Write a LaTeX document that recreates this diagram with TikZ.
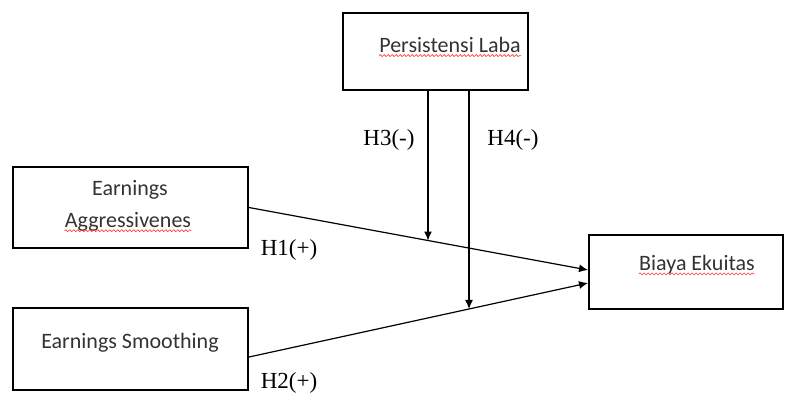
\documentclass[tikz,border=0pt]{standalone}
\usepackage{fontspec}
\setmainfont{Liberation Serif}
\newfontfamily\boxfont{Carlito}
\usetikzlibrary{arrows.meta,calc,decorations.pathmorphing}

\begin{document}
\begin{tikzpicture}[x=0.5pt,y=-0.5pt,
    varbox/.style={draw,line width=1pt,inner sep=0pt},
    boxtext/.style={inner sep=0pt,text=black!80,font=\boxfont\fontsize{11}{13}\selectfont},
    hyp/.style={inner sep=0pt,font=\fontsize{11.5}{13}\selectfont},
    arr/.style={line width=0.6pt,-{Latex[length=4.5pt,width=4pt]}},
    spell/.style={red!80,line width=0.3pt,decorate,decoration={snake,amplitude=0.5pt,segment length=2pt}}]

    \useasboundingbox (0,0) rectangle (790,397);

    \node [varbox,minimum width=92.5pt,minimum height=38.5pt] (pl) at (435.5,51.5) {};
    \node [varbox,minimum width=117.5pt,minimum height=40.5pt] (ea) at (130.5,207.5) {};
    \node [varbox,minimum width=117.5pt,minimum height=41pt] (es) at (130.5,349) {};
    \node [varbox,minimum width=97pt,minimum height=37pt] (be) at (686,272) {};

    \node [boxtext] (plt) at (450,45) {Persistensi Laba};
    \node [boxtext] (eat1) at (130,190) {Earnings};
    \node [boxtext] (eat2) at (128,222) {Aggressivenes};
    \node [boxtext] (est) at (130,343) {Earnings Smoothing};
    \node [boxtext] (bet) at (697,265) {Biaya Ekuitas};

    \draw [spell] ([yshift=-1.5pt]plt.base west) -- ([yshift=-1.5pt]plt.base east);
    \draw [spell] ([yshift=-1.5pt]eat2.base west) -- ([yshift=-1.5pt]eat2.base east);
    \draw [spell] ([yshift=-1.5pt]bet.base west) -- ([yshift=-1.5pt]bet.base east);

    \coordinate (in1) at ([yshift=1pt]be.west);
    \coordinate (in2) at ([yshift=-5.5pt]be.west);
    \coordinate (out2) at ([yshift=-4pt]es.east);
    \draw [arr] (ea.east) -- (in1);
    \draw [arr] (out2) -- (in2);

    \coordinate (m1) at ($(ea.east)!0.528!(in1)$);
    \coordinate (m2) at ($(out2)!0.649!(in2)$);
    \draw [arr] (pl.south -| m1) -- (m1);
    \draw [arr] (pl.south -| m2) -- (m2);

    \node [hyp] (h1) at (289,250) {H1(+)};
    \node [hyp] (h2) at (289,383) {H2(+)};
    \node [hyp] (h3) at (389,140) {H3(-)};
    \node [hyp] (h4) at (513,140) {H4(-)};

\end{tikzpicture}
\end{document}
